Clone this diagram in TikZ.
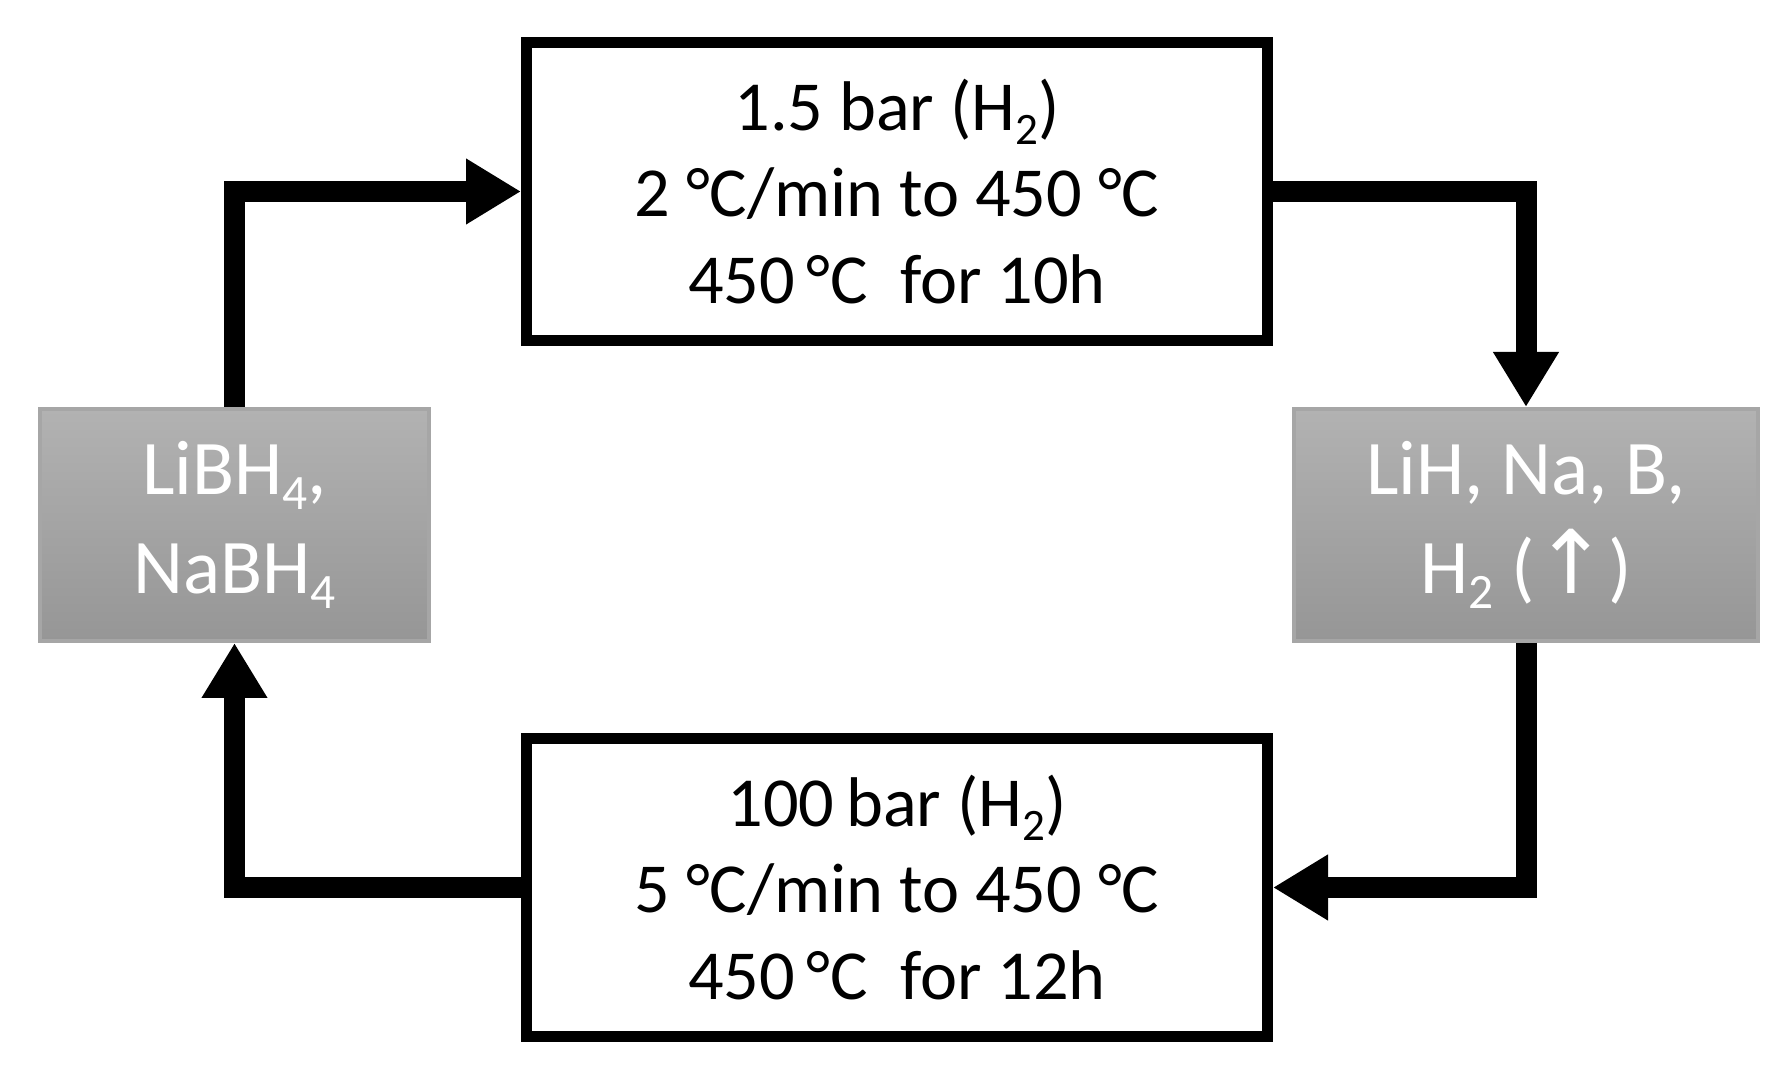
\documentclass[tikz,border=0pt]{standalone}
\usepackage{fontspec}
\setmainfont{Carlito}
\newfontfamily\arrowfont{DejaVu Sans}
\usetikzlibrary{arrows.meta,calc}
\definecolor{shadetop}{RGB}{178,178,178}
\definecolor{shadebot}{RGB}{150,150,150}
\definecolor{shadeline}{RGB}{166,166,166}
\newcommand\chemsub[1]{\raisebox{-0.2em}{\scalebox{0.64}{#1}}}
\tikzset{
%Define standard arrow tip
>={Triangle[length=5.5mm,width=6.2mm]},
%Define style for the condition boxes and the compound boxes
process/.style={draw=black, line width=1.1mm, fill=white, align=center,
  minimum width=7.41cm, minimum height=2.98cm, inner sep=0pt,
  font=\fontsize{20}{24.5}\selectfont},
species/.style={draw=shadeline, line width=0.4mm, top color=shadetop,
  bottom color=shadebot, text=white, align=center, minimum height=2.32cm,
  inner sep=0pt, font=\fontsize{22}{28.2}\selectfont},
cycle arrow/.style={->, line width=2.1mm, line join=miter},
}

\begin{document}
\begin{tikzpicture}
    \useasboundingbox (0,0) rectangle (17.92,10.80);
    %Centres of the four boxes
    \coordinate (up) at (8.97,8.885);
    \coordinate (down) at (8.97,1.925);
    \coordinate (west) at (2.345,5.55);
    \coordinate (east) at (15.26,5.55);

    %Conditions
    \node[process] (dehyd) at (up)
    {1.5 bar (H\chemsub{2})\\2 °C/min to 450 °C\\450\,°C\ \ for 10h};
    \node[process] (rehyd) at (down)
    {100\,bar (H\chemsub{2})\\5 °C/min to 450 °C\\450\,°C\ \ for 12h};

    %Compounds
    \node[species, minimum width=3.89cm] (borohyd) at (west)
    {LiBH\chemsub{4},\\NaBH\chemsub{4}};
    \node[species, minimum width=4.64cm] (decomp) at (east)
    {LiH, Na, B,\\H\chemsub{2} ({\arrowfont\fontsize{25}{25}\selectfont ↑})};

    %The cycle
    \draw[cycle arrow] (borohyd.north) |- (dehyd.west);
    \draw[cycle arrow] (dehyd.east) -| (decomp.north);
    \draw[cycle arrow] (decomp.south) |- (rehyd.east);
    \draw[cycle arrow] (rehyd.west) -| (borohyd.south);
\end{tikzpicture}
\end{document}
